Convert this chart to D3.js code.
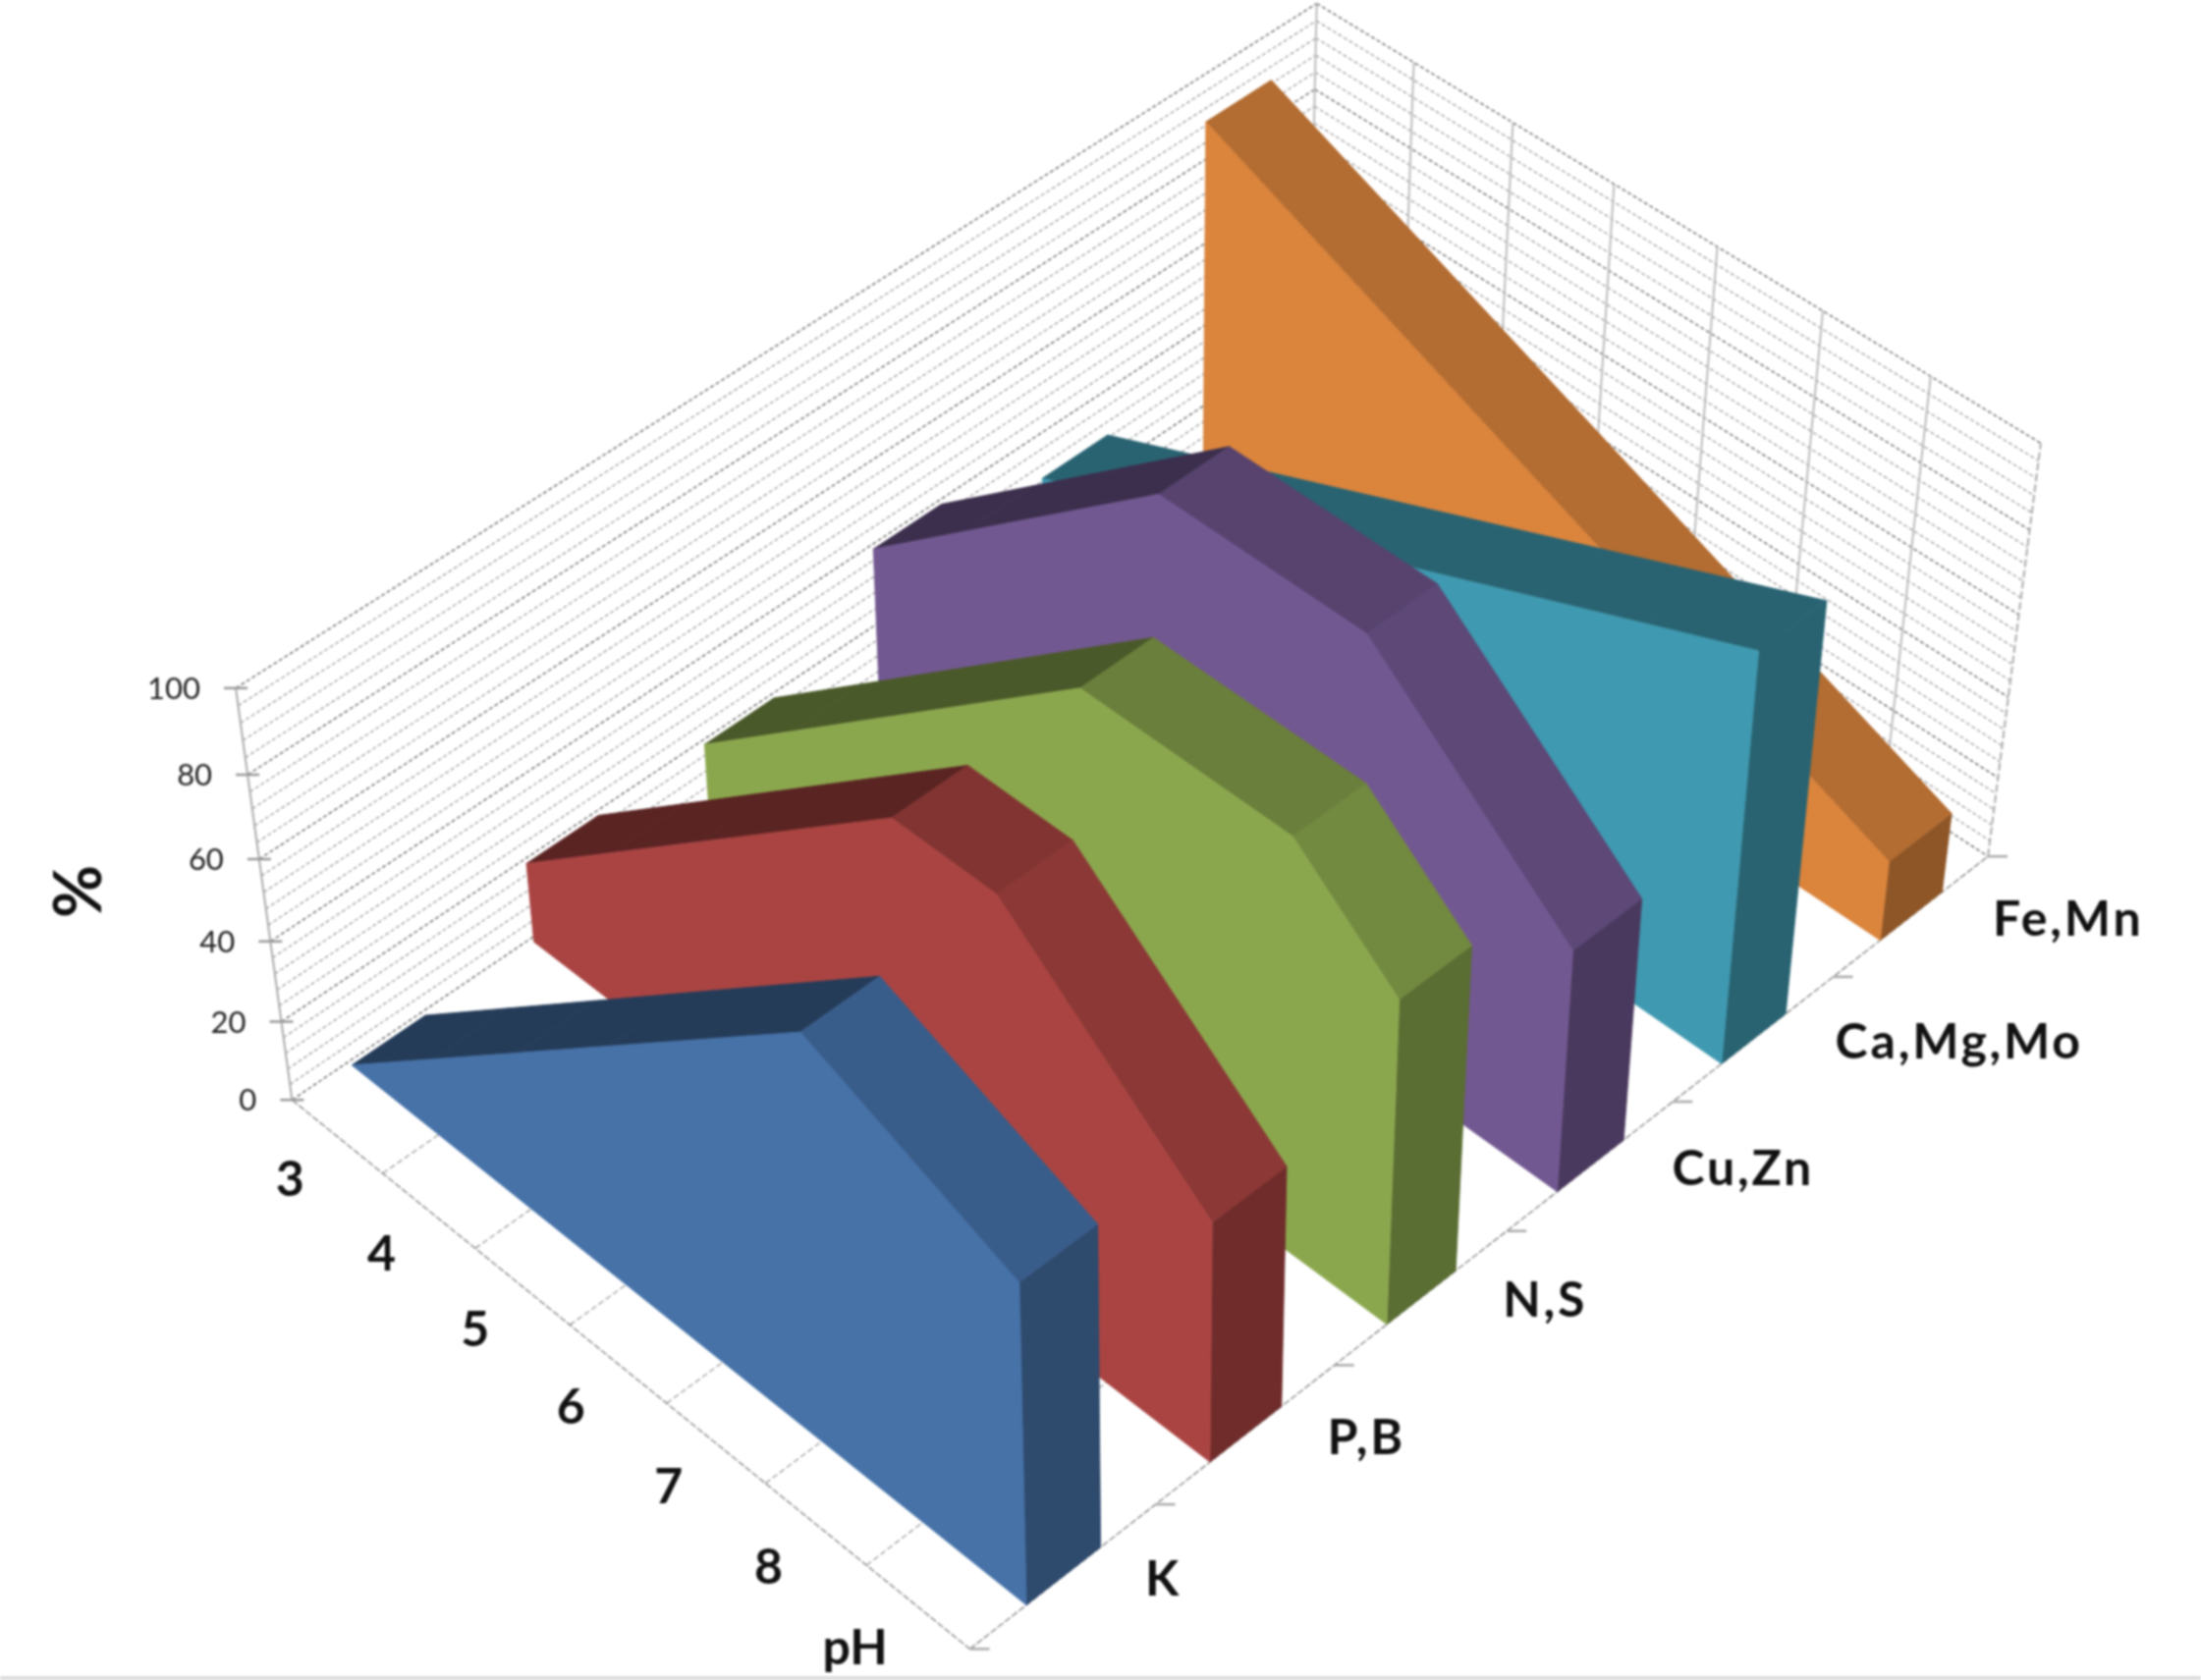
<!DOCTYPE html>
<html><head><meta charset="utf-8"><script src="https://cdnjs.cloudflare.com/ajax/libs/d3/7.8.5/d3.min.js"></script>
<style>html,body{margin:0;background:#fff;overflow:hidden}svg{display:block;filter:blur(0.9px)}</style></head><body><svg id="c" width="2241" height="1711"></svg>
<script>
// ---- chart data ----
const phLabels=["3","4","5","6","7","8","pH"];
const phPoints=[0,1,2,3,4,5,6,7];
const nutrients=["K","P,B","N,S","Cu,Zn","Ca,Mg,Mo","Fe,Mn"];
const valuesK=[0,20,40,60,80,100,90,80];
const valuesPB=[20,40,60,80,100,100,80,60];
const valuesNS=[20,40,60,80,100,100,100,80];
const valuesCuZn=[40,60,80,100,100,100,80,60];
const valuesCaMgMo=[30,40,50,60,70,80,90,100];
const valuesFeMn=[90,80,70,60,50,40,30,20];
const percentTicks=[0,20,40,60,80,100];
const colours=["#4672a8","#aa4442","#8ba74e","#725891","#3f99b0","#da843c"];
const seriesValues=[valuesK,valuesPB,valuesNS,valuesCuZn,valuesCaMgMo,valuesFeMn];

// ---- camera: projective fit to where the chart box's ticks lie on the page ----
const cameraRefs=[];
[[296,1121],[285,1042],[275,959],[263,876],[252,789],[240,701]].forEach((p,i)=>cameraRefs.push([0,0,i/5,p[0],p[1]]));
[[390,1193],[483,1267],[582,1349],[679,1428],[783,1510],[883,1596],[990,1679]].forEach((p,i)=>cameraRefs.push([(i+1)/7,0,0,p[0],p[1]]));
[[1172,1532],[1358,1393],[1533,1255],[1704,1125],[1869,996],[2022,869]].forEach((p,i)=>cameraRefs.push([1,(i+1)/6,0,p[0],p[1]]));
[[1342,5],[1440,63],[1540,125],[1645,187],[1750,254],[1853,317],[1965,382],[2078,448]].forEach((p,i)=>cameraRefs.push([i/7,1,1,p[0],p[1]]));
function fit(pts){const N=11,M=Array.from({length:N},()=>Array(N+1).fill(0));
 const add=(r,b)=>{for(let i=0;i<N;i++){for(let j=0;j<N;j++)M[i][j]+=r[i]*r[j];M[i][N]+=r[i]*b;}};
 pts.forEach(([x,y,z,u,v])=>{u/=1000;v/=1000;add([x,y,z,1,0,0,0,0,-u*x,-u*y,-u*z],u);add([0,0,0,0,x,y,z,1,-v*x,-v*y,-v*z],v);});
 for(let i=0;i<N;i++){let m=i;for(let k=i;k<N;k++)if(Math.abs(M[k][i])>Math.abs(M[m][i]))m=k;[M[i],M[m]]=[M[m],M[i]];
  for(let k=0;k<N;k++)if(k!==i){const f=M[k][i]/M[i][i];for(let j=i;j<=N;j++)M[k][j]-=f*M[i][j];}}
 return M.map((r,i)=>r[N]/r[i]);}
const C=fit(cameraRefs);
const proj=(x,y,z)=>{const w=C[8]*x+C[9]*y+C[10]*z+1;return [1000*(C[0]*x+C[1]*y+C[2]*z+C[3])/w,1000*(C[4]*x+C[5]*y+C[6]*z+C[7])/w];};

// ---- scales ----
const xPoint=d3.scalePoint().domain(phPoints).range([0.006,1]);
const xBand=d3.scaleBand().domain(phLabels).range([0,1]);
const yBand=d3.scaleBand().domain(nutrients).range([0,1]).paddingInner(0.6).paddingOuter(0.3);
const yCat=d3.scaleBand().domain(nutrients).range([0,1]);
const zScale=d3.scaleLinear().domain([0,100]).range([0,1]);
const shade=d3.scaleLinear().domain([20,10,0,-10,-20]).range([0.53,0.65,0.76,0.82,0.82]);
const darken=(c,f)=>{const r=d3.rgb(c);return d3.rgb(r.r*f,r.g*f,r.b*f).formatHex();};

const svg=d3.select('#c');
const line=d3.line();
svg.append('rect').attr('x',0).attr('y',1707).attr('width',2241).attr('height',4).attr('fill','#ddd');
const seg=(g,a,b,stroke,w,dash)=>g.append('path').attr('d',line([proj(...a),proj(...b)])).attr('stroke',stroke).attr('stroke-width',w).attr('fill','none').attr('stroke-dasharray',dash||null);

// walls and floor
const grid=svg.append('g').attr('class','grid');
d3.range(0,101,4).forEach(v=>{
  const z=zScale(v),major=v%20===0;
  const col=major?'#666':'#888',dash='4 2.5',w=major?1.4:1.1;
  seg(grid,[0,0,z],[0,1,z],col,w,dash);
  seg(grid,[0,1,z],[1,1,z],col,w,dash);
});
seg(grid,[0,0,0],[0,0,1],'#aaa',2);
seg(grid,[0,1,0],[0,1,1],'#bbb',2);
seg(grid,[1,1,0],[1,1,1],'#aaa',2,'8 3');
d3.range(1,7).forEach(k=>{
  seg(grid,[k/7,1,0],[k/7,1,1],'#bbb',2);
  seg(grid,[k/7,0,0],[k/7,1,0],'#999',1.3,'6 3');
});
seg(grid,[0,0,0],[1,0,0],'#888',1.4,'7 2');
seg(grid,[1,0,0],[1,1,0],'#888',1.4,'7 2');

// ticks
const tickLayer=svg.append('g').attr('class','ticks');
percentTicks.forEach(v=>{const p=proj(0,0,zScale(v));
  tickLayer.append('path').attr('d',line([[p[0]-12,p[1]],[p[0]+12,p[1]]])).attr('stroke','#999').attr('stroke-width',2.5);
  svg.append('text').attr('x',p[0]-36).attr('y',p[1]).attr('dy','0.36em').attr('text-anchor','end').attr('font-family','Lato').attr('font-size',31).attr('fill','#222').text(v);
});
d3.range(0,7).forEach(k=>{const p=proj(1,k/6,0);
  tickLayer.append('path').attr('d',line([[p[0],p[1]],[p[0]+20,p[1]]])).attr('stroke','#aaa').attr('stroke-width',2.5);
});

// series, back to front
const areaGen=d3.area().x0(d=>d.b[0]).y0(d=>d.b[1]).x1(d=>d.t[0]).y1(d=>d.t[1]);
d3.range(nutrients.length-1,-1,-1).forEach(i=>{
  const name=nutrients[i],y0=yBand(name),y1=y0+yBand.bandwidth(),vals=seriesValues[i],col=colours[i];
  const g=svg.append('g').attr('class','series');
  const face=(pts,fill)=>g.append('path').attr('d',line(pts)+'Z').attr('fill',fill).attr('stroke',fill).attr('stroke-width',0.8);
  // end cap
  const zEnd=zScale(vals[7]);
  face([proj(1,y0,0),proj(1,y1,0),proj(1,y1,zEnd),proj(1,y0,zEnd)],darken(col,0.65));
  // top faces
  d3.range(7).forEach(k=>{
    const a=xPoint(k),b=xPoint(k+1),za=zScale(vals[k]),zb=zScale(vals[k+1]);
    face([proj(a,y0,za),proj(b,y0,zb),proj(b,y1,zb),proj(a,y1,za)],darken(col,shade(vals[k+1]-vals[k])));
  });
  // front face
  const rows=phPoints.map(k=>({b:proj(xPoint(k),y0,0),t:proj(xPoint(k),y0,zScale(vals[k]))}));
  g.append('path').attr('d',areaGen(rows)).attr('fill',col).attr('stroke',col).attr('stroke-width',0.8);
});

// labels
const labelFont={'font-family':'Lato','font-weight':700,'font-size':50,'fill':'#111'};
const addText=(x,y,t,anchor)=>{const s=svg.append('text').attr('x',x).attr('y',y).attr('dy','0.36em').attr('text-anchor',anchor).text(t);Object.entries(labelFont).forEach(([k,v])=>s.attr(k,v));return s;};
phLabels.forEach(l=>{const p=proj(xBand(l)+xBand.bandwidth()/2,0,0);addText(p[0]+(l==='pH'?-64:-48),p[1]+(l==='pH'?40:43),l,'middle');});
nutrients.forEach(n=>{const p=proj(1,yCat(n)+yCat.bandwidth()/2,0);addText(p[0]+83,p[1]+2,n,'start').attr('letter-spacing',2.8);});
addText(0,0,'%','middle').attr('font-size',66).attr('transform','translate(79,908) rotate(-90)');
</script></body></html>
